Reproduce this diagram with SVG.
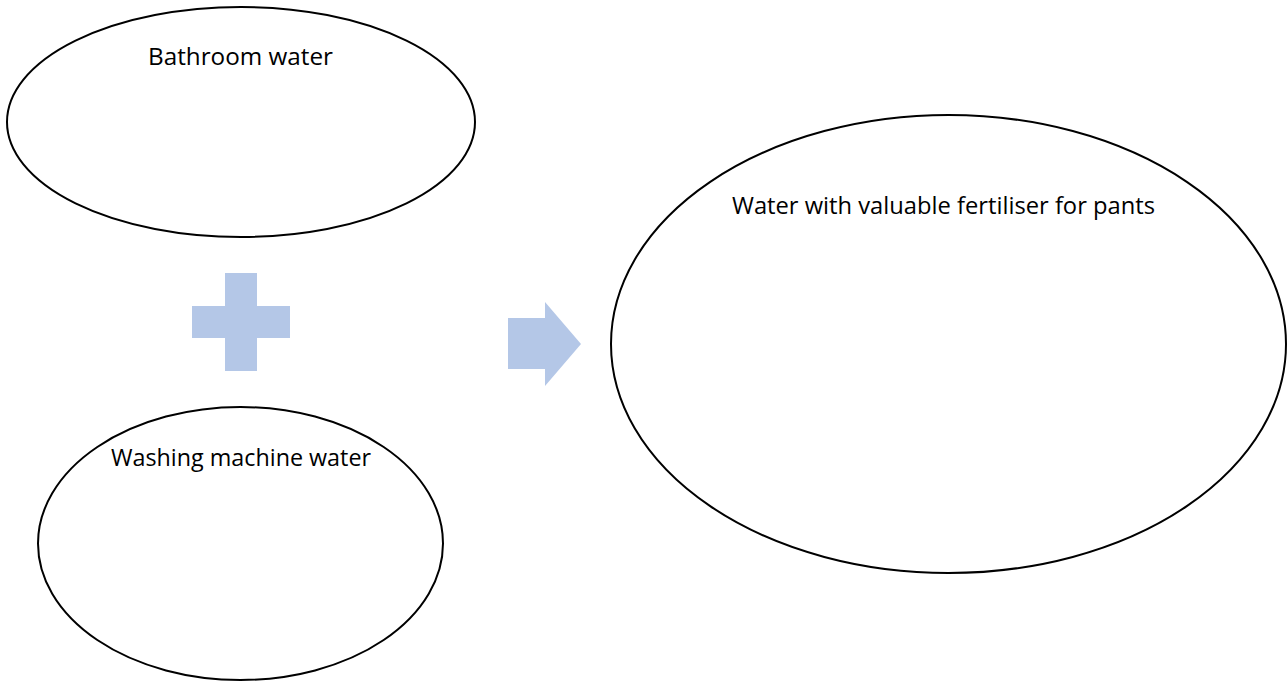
<svg xmlns="http://www.w3.org/2000/svg" width="1288" height="682" viewBox="0 0 1288 682">
<style>
.node{fill:#ffffff;stroke:#000000;stroke-width:2}
.lbl{font-family:"Open Sans","Liberation Sans",sans-serif;font-size:23px;fill:#000000}
.sym{fill:#b4c7e7}
</style>
<rect width="1288" height="682" fill="#ffffff"/>
<g id="bathroom">
<ellipse class="node" cx="241" cy="122" rx="234" ry="115"/>
<text class="lbl" x="148" y="65" textLength="185" lengthAdjust="spacingAndGlyphs">Bathroom water</text>
</g>
<g id="washing">
<ellipse class="node" cx="240.5" cy="543.5" rx="202.5" ry="136.5"/>
<text class="lbl" x="111" y="466" textLength="260" lengthAdjust="spacingAndGlyphs">Washing machine water</text>
</g>
<g id="result">
<ellipse class="node" cx="948.5" cy="344" rx="337.5" ry="229"/>
<text class="lbl" x="732" y="214" textLength="423" lengthAdjust="spacingAndGlyphs">Water with valuable fertiliser for pants</text>
</g>
<g id="connectors">
<path class="sym" d="M225,273 H257 V306 H290 V338 H257 V371 H225 V338 H192 V306 H225 Z"/>
<path class="sym" d="M508,318 H545 V302 L581,344 L545,386 V369 H508 Z"/>
</g>
</svg>
